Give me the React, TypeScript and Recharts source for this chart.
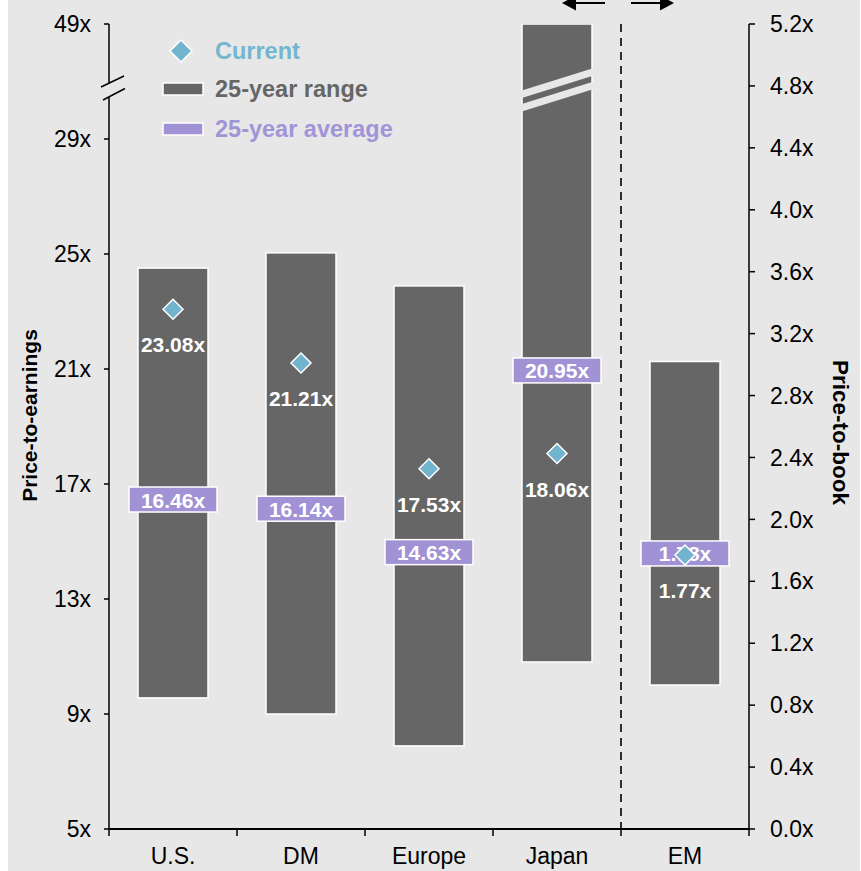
import React from 'react';
import { ComposedChart, Bar, Scatter, XAxis, YAxis, ReferenceArea, Label } from 'recharts';

// ---------- data ----------
const categories = ['U.S.', 'DM', 'Europe', 'Japan', 'EM'];
// Price-to-earnings (left axis) 25-year range, developed markets
const peRangeLow: (number | null)[] = [9.56, 9.0, 7.89, 10.81, null];
const peRangeHigh: (number | null)[] = [24.51, 25.04, 23.89, 33, null]; // Japan runs past the axis break
const peCurrent: (number | null)[] = [23.08, 21.21, 17.53, 18.06, null];
const peAverage: (number | null)[] = [16.46, 16.14, 14.63, 20.95, null];
// Price-to-book (right axis), emerging markets
const pbRangeLow: (number | null)[] = [null, null, null, null, 0.93];
const pbRangeHigh: (number | null)[] = [null, null, null, null, 3.02];
const pbCurrent: (number | null)[] = [null, null, null, null, 1.77];
const pbAverage: (number | null)[] = [null, null, null, null, 1.78];
// axes
const peTicks = [5, 9, 13, 17, 21, 25, 29, 33];
const peTickLabels = ['5x', '9x', '13x', '17x', '21x', '25x', '29x', '49x'];
const pbTicks = [0, 0.4, 0.8, 1.2, 1.6, 2.0, 2.4, 2.8, 3.2, 3.6, 4.0, 4.4, 4.8, 5.2];
const pbTickLabels = ['0.0x', '0.4x', '0.8x', '1.2x', '1.6x', '2.0x', '2.4x', '2.8x', '3.2x', '3.6x', '4.0x', '4.4x', '4.8x', '5.2x'];
const pbCategory = 'EM'; // first category on the price-to-book side of the divider
const legendLabels = ['Current', '25-year range', '25-year average'];
const axisTitles = ['Price-to-earnings', 'Price-to-book'];

// ---------- styles ----------
const BG = '#e7e7e7';
const RANGE = '#666666';
const AVG = '#a092d4';
const CURRENT = '#72b3cd';
const FONT = '"Liberation Sans", Arial, Helvetica, sans-serif';
const TICK_FONT = 23;

const data = categories.map((name, i) => ({
  name,
  peRange: peRangeLow[i] != null ? [peRangeLow[i], peRangeHigh[i]] : null,
  pbRange: pbRangeLow[i] != null ? [pbRangeLow[i], pbRangeHigh[i]] : null,
  peCurrent: peCurrent[i],
  peAverage: peAverage[i],
  pbCurrent: pbCurrent[i],
  pbAverage: pbAverage[i],
}));

const peTop = peTicks[peTicks.length - 1];

const makeRangeShape = (key: string) => (props: any) => {
  const { x, y, width, height, payload } = props;
  const v = payload ? payload[key] : null;
  if (!v || !isFinite(y) || !isFinite(height)) return <g />;
  const top = Math.min(y, y + height);
  const h = Math.abs(height);
  const broken = v[1] >= peTop && key === 'peRange';
  const els: any[] = [
    <rect key="r" x={x} y={top} width={width} height={h} fill={RANGE} stroke="#ffffff" strokeWidth={1.5} />,
  ];
  if (broken) {
    const c = top + 66; // break centre
    const rise = width * 0.32;
    const band = (off: number, t: number, k: string) => (
      <polygon
        key={k}
        points={`${x - 1},${c + rise / 2 + off} ${x + width + 1},${c - rise / 2 + off} ${x + width + 1},${c - rise / 2 + off + t} ${x - 1},${c + rise / 2 + off + t}`}
        fill={BG}
      />
    );
    els.push(band(-10.5, 7.5, 'b1'));
    els.push(band(3, 7.5, 'b2'));
  }
  return <g>{els}</g>;
};

const makeAverageShape = (key: string) => (props: any) => {
  const { cx, cy, payload } = props;
  const v = payload ? payload[key] : null;
  if (v == null || !isFinite(cx) || !isFinite(cy)) return <g />;
  return (
    <g>
      <rect x={cx - 44} y={cy - 12.5} width={88} height={25} fill={AVG} stroke="#ffffff" strokeWidth={1.5} />
      <text x={cx} y={cy + 8} textAnchor="middle" fontSize={21} fontWeight="bold" fill="#ffffff" fontFamily={FONT}>
        {v.toFixed(2) + 'x'}
      </text>
    </g>
  );
};

const makeCurrentShape = (key: string) => (props: any) => {
  const { cx, cy, payload } = props;
  const v = payload ? payload[key] : null;
  if (v == null || !isFinite(cx) || !isFinite(cy)) return <g />;
  const r = 10;
  return (
    <g>
      <polygon
        points={`${cx},${cy - r} ${cx + r},${cy} ${cx},${cy + r} ${cx - r},${cy}`}
        fill={CURRENT}
        stroke="#ffffff"
        strokeWidth={1.5}
      />
      <text x={cx} y={cy + 43} textAnchor="middle" fontSize={21} fontWeight="bold" fill="#ffffff" fontFamily={FONT}>
        {v.toFixed(2) + 'x'}
      </text>
    </g>
  );
};

const PE_TICK_SIZE = 5;
const PE_TICK_MARGIN = 13;

const PeTick = (props: any) => {
  const { x, y, payload } = props;
  const idx = peTicks.indexOf(payload.value);
  const label = idx >= 0 ? peTickLabels[idx] : '';
  const isTop = payload.value === peTop;
  const ax = x + PE_TICK_SIZE + PE_TICK_MARGIN;
  return (
    <g>
      <text x={x} y={y} dy="0.355em" textAnchor="end" fontSize={TICK_FONT} fill="#000" fontFamily={FONT}>
        {label}
      </text>
      {isTop && (
        <g>
          <rect x={ax - 3} y={y + 59} width={6} height={14} fill={BG} />
          <line x1={ax - 8} y1={y + 63} x2={ax + 15} y2={y + 52} stroke="#000" strokeWidth={1.5} />
          <line x1={ax - 6} y1={y + 76} x2={ax + 16} y2={y + 64.5} stroke="#000" strokeWidth={1.5} />
        </g>
      )}
    </g>
  );
};

const PbTick = (props: any) => {
  const { x, y, payload } = props;
  const idx = pbTicks.findIndex((t) => Math.abs(t - payload.value) < 1e-9);
  return (
    <text x={x} y={y} dy="0.355em" textAnchor="start" fontSize={TICK_FONT} fill="#000" fontFamily={FONT}>
      {idx >= 0 ? pbTickLabels[idx] : ''}
    </text>
  );
};

const CategoryTick = (props: any) => {
  const { x, y, payload, index, width } = props;
  const n = categories.length;
  const half = (width || 640) / n / 2;
  const last = index === n - 1;
  return (
    <g>
      <line x1={x - half} x2={x - half} y1={y} y2={y + 7} stroke="#000" strokeWidth={1.5} />
      {last && <line x1={x + half} x2={x + half} y1={y} y2={y + 7} stroke="#000" strokeWidth={1.5} />}
      <text x={x} y={y + 35} textAnchor="middle" fontSize={TICK_FONT} fill="#000" fontFamily={FONT}>
        {payload.value}
      </text>
    </g>
  );
};

const PeTitle = (props: any) => {
  const vb = props.viewBox || { x: 0, y: 24, width: 101, height: 805 };
  const cx = vb.x + 21;
  const cy = vb.y + vb.height / 2 - 11;
  return (
    <text
      x={cx}
      y={cy}
      transform={`rotate(-90, ${cx}, ${cy})`}
      textAnchor="middle"
      dominantBaseline="central"
      fontSize={21}
      fontWeight="bold"
      fill="#000"
      fontFamily={FONT}
    >
      {axisTitles[0]}
    </text>
  );
};

const PbTitle = (props: any) => {
  const vb = props.viewBox || { x: 741, y: 24, width: 111, height: 805 };
  const cx = vb.x + 91;
  const cy = vb.y + vb.height / 2 + 6;
  return (
    <text
      x={cx}
      y={cy}
      transform={`rotate(90, ${cx}, ${cy})`}
      textAnchor="middle"
      dominantBaseline="central"
      fontSize={22.5}
      fontWeight="bold"
      fill="#000"
      fontFamily={FONT}
    >
      {axisTitles[1]}
    </text>
  );
};

// Divider: dashed line along the left edge of the EM band, with arrows above
const DividerShape = (props: any) => {
  const { x, y, height } = props;
  if (!isFinite(x) || !isFinite(y)) return <g />;
  const ay = y - 21;
  return (
    <g>
      <line x1={x} y1={y} x2={x} y2={y + height} stroke="#000" strokeWidth={1.6} strokeDasharray="8 6" />
      <line x1={x - 16} y1={ay} x2={x - 46} y2={ay} stroke="#000" strokeWidth={2} />
      <polygon points={`${x - 59},${ay} ${x - 45},${ay - 7.5} ${x - 45},${ay + 7.5}`} fill="#000" />
      <line x1={x + 10} y1={ay} x2={x + 40} y2={ay} stroke="#000" strokeWidth={2} />
      <polygon points={`${x + 53},${ay} ${x + 39},${ay - 7.5} ${x + 39},${ay + 7.5}`} fill="#000" />
    </g>
  );
};

const LegendOverlay = () => {
  const textX = 207;
  const rows = [51, 89, 129];
  const colors = [CURRENT, RANGE, AVG];
  const textColors = ['#74b5cf', '#666666', '#a294d8'];
  return (
    <svg width={420} height={160} style={{ position: 'absolute', left: 0, top: 0, pointerEvents: 'none' }}>
      {legendLabels.map((lab, i) => {
        const cy = rows[i];
        return (
          <g key={lab}>
            {i === 0 ? (
              <polygon
                points={`173,${cy - 11} 184,${cy} 173,${cy + 11} 162,${cy}`}
                fill={colors[i]}
                stroke="#fff"
                strokeWidth={1.5}
              />
            ) : (
              <rect x={155} y={cy - 6} width={40} height={12} fill={colors[i]} stroke="#fff" strokeWidth={1.5} />
            )}
            <text x={textX} y={cy + 8} fontSize={23.5} fontWeight="bold" fill={textColors[i]} fontFamily={FONT}>
              {lab}
            </text>
          </g>
        );
      })}
    </svg>
  );
};

export default function App() {
  return (
    <div
      style={{
        position: 'absolute',
        left: 8,
        top: 0,
        width: 852,
        height: 871,
        background: BG,
        overflow: 'hidden',
        fontFamily: FONT,
      }}
    >
      <ComposedChart
        width={852}
        height={871}
        data={data}
        margin={{ top: 24, right: 0, bottom: 0, left: 0 }}
        style={{ fontFamily: FONT, overflow: 'visible' }}
      >
        <XAxis
          xAxisId="cat"
          dataKey="name"
          type="category"
          height={42}
          tickLine={false}
          tickSize={0}
          tickMargin={0}
          axisLine={{ stroke: '#000', strokeWidth: 2 }}
          tick={<CategoryTick />}
          interval={0}
        />
        <XAxis xAxisId="cat2" dataKey="name" type="category" hide />
        <YAxis
          yAxisId="pe"
          orientation="left"
          width={101}
          domain={[peTicks[0], peTop]}
          ticks={peTicks}
          interval={0}
          allowDataOverflow
          tickSize={PE_TICK_SIZE}
          tickMargin={PE_TICK_MARGIN}
          tickLine={{ stroke: '#000', strokeWidth: 1.5 }}
          axisLine={{ stroke: '#000', strokeWidth: 1.5 }}
          tick={<PeTick />}
          label={<Label content={<PeTitle />} />}
        />
        <YAxis
          yAxisId="pb"
          orientation="right"
          width={111}
          domain={[pbTicks[0], pbTicks[pbTicks.length - 1]]}
          ticks={pbTicks}
          interval={0}
          allowDataOverflow
          tickSize={6}
          tickMargin={15}
          tickLine={{ stroke: '#000', strokeWidth: 1.5 }}
          axisLine={{ stroke: '#000', strokeWidth: 1.5 }}
          tick={<PbTick />}
          label={<Label content={<PbTitle />} />}
        />
        <ReferenceArea
          xAxisId="cat"
          yAxisId="pe"
          x1={pbCategory}
          x2={pbCategory}
          shape={DividerShape}
          ifOverflow="visible"
        />
        <Bar
          xAxisId="cat"
          yAxisId="pe"
          dataKey="peRange"
          barSize={70}
          fill={RANGE}
          shape={makeRangeShape('peRange')}
          isAnimationActive={false}
        />
        <Bar
          xAxisId="cat2"
          yAxisId="pb"
          dataKey="pbRange"
          barSize={70}
          fill={RANGE}
          shape={makeRangeShape('pbRange')}
          isAnimationActive={false}
        />
        <Scatter xAxisId="cat" yAxisId="pe" dataKey="peAverage" shape={makeAverageShape('peAverage')} isAnimationActive={false} />
        <Scatter xAxisId="cat" yAxisId="pb" dataKey="pbAverage" shape={makeAverageShape('pbAverage')} isAnimationActive={false} />
        <Scatter xAxisId="cat" yAxisId="pe" dataKey="peCurrent" shape={makeCurrentShape('peCurrent')} isAnimationActive={false} />
        <Scatter xAxisId="cat" yAxisId="pb" dataKey="pbCurrent" shape={makeCurrentShape('pbCurrent')} isAnimationActive={false} />
      </ComposedChart>
      <LegendOverlay />
    </div>
  );
}
